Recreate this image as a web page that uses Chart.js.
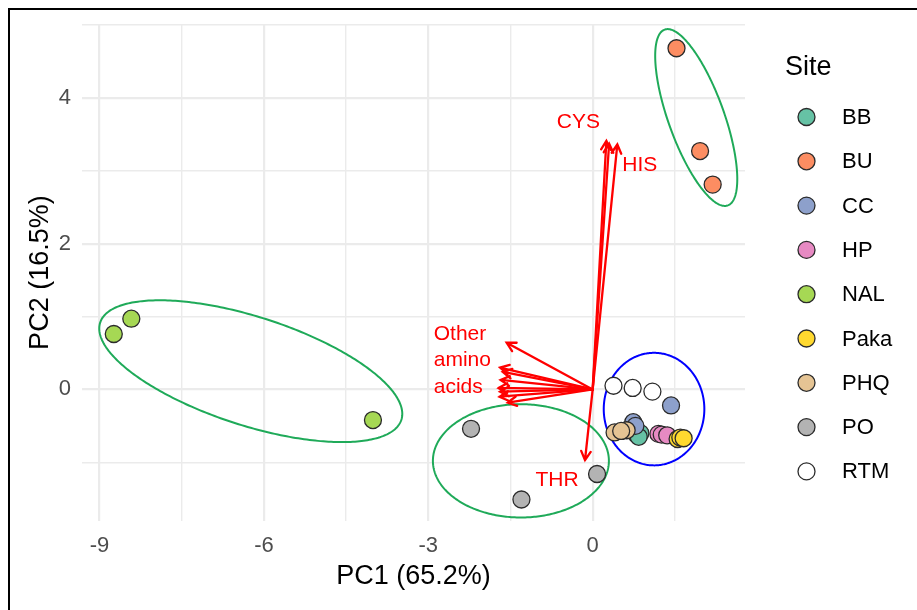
<!DOCTYPE html>
<html>
<head>
<meta charset="utf-8">
<script src="https://cdn.jsdelivr.net/npm/chart.js@4.4.1/dist/chart.umd.min.js"></script>
<style>
  html, body { margin: 0; padding: 0; background: #fff; }
  #wrap { width: 917px; height: 610px; position: relative; }
</style>
</head>
<body>
<div id="wrap"><canvas id="pcaChart" width="917" height="610"></canvas></div>
<script>
// Sites und Farben (Set2)
const sites = ['BB', 'BU', 'CC', 'HP', 'NAL', 'Paka', 'PHQ', 'PO', 'RTM'];
const siteColors = ['#66C2A5', '#FC8D62', '#8DA0CB', '#E78AC3', '#A6D854', '#FFD92F', '#E5C494', '#B3B3B3', '#FFFFFF'];

// PC-Werte pro Site
const pc1 = [
  [0.80, 0.87, 0.84],
  [1.53, 1.96, 2.19],
  [1.43, 0.74, 0.78],
  [1.20, 1.26, 1.36],
  [-8.74, -8.42, -4.01],
  [1.55, 1.60, 1.66],
  [0.62, 0.40, 0.52],
  [-2.22, -1.30, 0.08],
  [0.38, 0.73, 1.09]
];
const pc2 = [
  [-0.62, -0.60, -0.65],
  [4.68, 3.27, 2.81],
  [-0.22, -0.45, -0.50],
  [-0.61, -0.62, -0.63],
  [0.76, 0.97, -0.42],
  [-0.68, -0.66, -0.67],
  [-0.56, -0.59, -0.57],
  [-0.54, -1.51, -1.16],
  [0.05, 0.02, -0.03]
];

// Achsen
const xMajor = [-9, -6, -3, 0];
const xMinor = [-7.5, -4.5, -1.5, 1.5];
const yMajor = [0, 2, 4];
const yMinor = [-1, 1, 3, 5];

// Ladungspfeile (Spitzen, Ursprung 0/0)
const loadX = [0.25, 0.30, 0.45, -0.14, -1.57, -1.69, -1.64, -1.68, -1.72, -1.69, -1.70, -1.55];
const loadY = [3.41, 3.37, 3.36, -0.97, 0.64, 0.30, 0.24, 0.13, 0.02, -0.03, -0.10, -0.18];

// Beschriftungen der Pfeile
const varLabels = ['CYS', 'HIS', 'THR'];
const varLabelX = [-0.26, 0.86, -0.65];
const varLabelY = [3.67, 3.08, -1.25];
const otherLabel = ['Other', 'amino', 'acids'];
const otherLabelX = -2.90;
const otherLabelY = 0.40;

// Ellipsen: Zentrum + Halbachsen-Vektoren (Dateneinheiten)
const ellCx = [-6.24, 1.89, -1.31, 1.12];
const ellCy = [0.25, 3.73, -0.98, -0.27];
const ellUx = [2.748, 0.575, 1.606, 0.918];
const ellUy = [-0.668, -1.206, 0, 0];
const ellVx = [-0.308, -0.480, 0, 0];
const ellVy = [-0.707, -0.127, -0.777, 0.772];
const ellColors = ['#1FAA59', '#1FAA59', '#1FAA59', '#0000FF'];

const FONT = "'Liberation Sans', Arial, sans-serif";

const datasets = sites.map((site, i) => ({
  label: site,
  data: pc1[i].map((v, k) => ({ x: v, y: pc2[i][k] })),
  backgroundColor: siteColors[i],
  borderColor: '#2B2B2B',
  borderWidth: 1.3,
  pointRadius: 8.5,
  pointHoverRadius: 8.5,
  order: sites.length - i
}));

const biplotPlugin = {
  id: 'biplot',
  beforeDatasetsDraw(chart) {
    const { ctx, scales: { x, y } } = chart;
    ctx.save();

    // Ellipsen
    ellCx.forEach((cx, i) => {
      ctx.beginPath();
      for (let t = 0; t <= Math.PI * 2 + 0.01; t += 0.02) {
        const dx = cx + ellUx[i] * Math.cos(t) + ellVx[i] * Math.sin(t);
        const dy = ellCy[i] + ellUy[i] * Math.cos(t) + ellVy[i] * Math.sin(t);
        const px = x.getPixelForValue(dx);
        const py = y.getPixelForValue(dy);
        if (t === 0) ctx.moveTo(px, py); else ctx.lineTo(px, py);
      }
      ctx.closePath();
      ctx.strokeStyle = ellColors[i];
      ctx.lineWidth = 2;
      ctx.stroke();
    });

    // Pfeile
    const ox = x.getPixelForValue(0);
    const oy = y.getPixelForValue(0);
    ctx.strokeStyle = '#FF0000';
    ctx.lineWidth = 2.3;
    ctx.lineCap = 'round';
    loadX.forEach((lx, i) => {
      const tx = x.getPixelForValue(lx);
      const ty = y.getPixelForValue(loadY[i]);
      const ang = Math.atan2(ty - oy, tx - ox);
      ctx.beginPath();
      ctx.moveTo(ox, oy);
      ctx.lineTo(tx, ty);
      ctx.moveTo(tx - 10 * Math.cos(ang - 0.5), ty - 10 * Math.sin(ang - 0.5));
      ctx.lineTo(tx, ty);
      ctx.lineTo(tx - 10 * Math.cos(ang + 0.5), ty - 10 * Math.sin(ang + 0.5));
      ctx.stroke();
    });

    // Texte
    ctx.fillStyle = '#FF0000';
    ctx.font = '21px ' + FONT;
    ctx.textAlign = 'center';
    ctx.textBaseline = 'middle';
    varLabels.forEach((txt, i) => {
      ctx.fillText(txt, x.getPixelForValue(varLabelX[i]), y.getPixelForValue(varLabelY[i]));
    });
    ctx.textAlign = 'left';
    const lx = x.getPixelForValue(otherLabelX);
    const ly = y.getPixelForValue(otherLabelY);
    otherLabel.forEach((txt, k) => {
      ctx.fillText(txt, lx, ly + (k - 1) * 26.5);
    });
    ctx.restore();
  },
  afterDraw(chart) {
    const { ctx } = chart;
    ctx.save();
    // Legende
    ctx.fillStyle = '#000';
    ctx.textBaseline = 'middle';
    ctx.textAlign = 'left';
    ctx.font = '27px ' + FONT;
    ctx.fillText('Site', 785, 68);
    ctx.font = '22px ' + FONT;
    sites.forEach((site, i) => {
      const cy = 117 + i * 44.3;
      ctx.beginPath();
      ctx.arc(806.5, cy, 8.5, 0, Math.PI * 2);
      ctx.fillStyle = siteColors[i];
      ctx.fill();
      ctx.strokeStyle = '#2B2B2B';
      ctx.lineWidth = 1.3;
      ctx.stroke();
      ctx.fillStyle = '#000';
      ctx.fillText(site, 842, cy + 1);
    });
    // Rahmen
    ctx.strokeStyle = '#000';
    ctx.lineWidth = 2;
    ctx.beginPath();
    ctx.moveTo(9, 610);
    ctx.lineTo(9, 9);
    ctx.lineTo(917, 9);
    ctx.stroke();
    ctx.restore();
  }
};

const gridStyle = (majors) => ({
  color: '#EBEBEB',
  lineWidth: (c) => (c.tick && majors.includes(c.tick.value) ? 2.2 : 1.4),
  drawTicks: false
});

new Chart(document.getElementById('pcaChart'), {
  type: 'scatter',
  data: { datasets },
  options: {
    responsive: false,
    animation: false,
    devicePixelRatio: 1,
    layout: { padding: { left: 0, top: 21, right: 172, bottom: 0 } },
    plugins: { legend: { display: false }, tooltip: { enabled: false } },
    scales: {
      x: {
        type: 'linear',
        min: -9.32,
        max: 2.78,
        afterBuildTicks: (s) => { s.ticks = [...xMajor, ...xMinor].sort((a, b) => a - b).map(v => ({ value: v })); },
        afterFit: (s) => { s.height = 89; },
        grid: gridStyle(xMajor),
        border: { display: false },
        ticks: {
          padding: 12,
          color: '#4D4D4D',
          font: { family: FONT, size: 22 },
          callback: (v) => (xMajor.includes(v) ? String(v) : '')
        },
        title: { display: true, text: 'PC1 (65.2%)', color: '#000', font: { family: FONT, size: 27 }, padding: { top: 0, bottom: 17 } }
      },
      y: {
        type: 'linear',
        min: -1.805,
        max: 5.01,
        afterBuildTicks: (s) => { s.ticks = [...yMinor, ...yMajor].sort((a, b) => a - b).map(v => ({ value: v })); },
        afterFit: (s) => { s.width = 82; },
        grid: gridStyle(yMajor),
        border: { display: false },
        ticks: {
          padding: 11,
          color: '#4D4D4D',
          font: { family: FONT, size: 22 },
          callback: (v) => (yMajor.includes(v) ? String(v) : '')
        },
        title: { display: true, text: 'PC2 (16.5%)', color: '#000', font: { family: FONT, size: 27 }, padding: { top: 24, bottom: 0 } }
      }
    }
  },
  plugins: [biplotPlugin]
});
</script>
</body>
</html>
